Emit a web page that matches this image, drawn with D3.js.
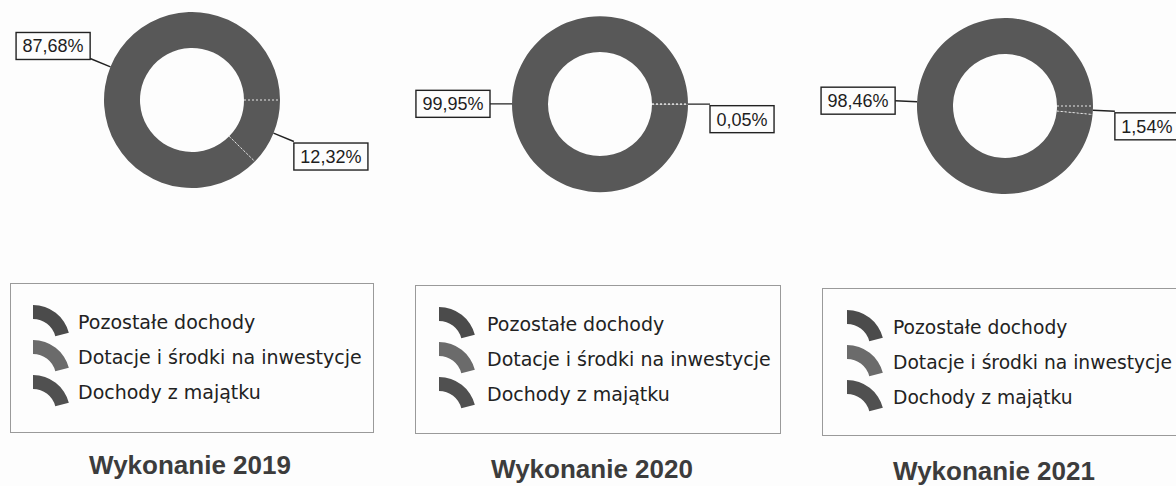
<!DOCTYPE html>
<html>
<head>
<meta charset="utf-8">
<script src="https://cdn.jsdelivr.net/npm/d3@7"></script>
<style>
  html, body { margin: 0; padding: 0; background: #fdfdfd; }
  svg { display: block; }
</style>
</head>
<body>
<svg id="chart" width="1176" height="486"></svg>
<script>
// ---- data ----
const years = ["2019", "2020", "2021"];
const titles = ["Wykonanie 2019", "Wykonanie 2020", "Wykonanie 2021"];
const legendCategories = ["Pozostałe dochody", "Dotacje i środki na inwestycje", "Dochody z majątku"];
const minorShare = [12.32, 0.05, 1.54];   // smaller slice (starts at 3 o'clock)
const majorShare = [87.68, 99.95, 98.46]; // larger slice
const shareLabels = [["12,32%", "87,68%"], ["0,05%", "99,95%"], ["1,54%", "98,46%"]];

// ---- layout (positions / sizes) ----
const panels = [
  { cx: 192, cy: 100, lx: 10,  ly: 283, lw: 363, lh: 149, iconDx: 23, textDx: 68, fs: 19,   tx: 190, ty: 474 },
  { cx: 600, cy: 104, lx: 415, ly: 285, lw: 365, lh: 148, iconDx: 24, textDx: 72, fs: 19,   tx: 592, ty: 478 },
  { cx: 1005, cy: 106, lx: 822, ly: 288, lw: 370, lh: 147, iconDx: 25, textDx: 71, fs: 18.7, tx: 994, ty: 480 }
];
const R = 88, r = 52;
const ringColor = "#585858";
const iconColors = ["#4b4b4b", "#6b6b6b", "#505050"];

const svg = d3.select("#chart");

const pie = d3.pie().sort(null).value(d => d)
  .startAngle(Math.PI / 2).endAngle(Math.PI / 2 + 2 * Math.PI);
const arc = d3.arc().innerRadius(r).outerRadius(R);

years.forEach((yr, i) => {
  const p = panels[i];
  const g = svg.append("g").attr("transform", `translate(${p.cx},${p.cy})`);
  const slices = pie([minorShare[i], majorShare[i]]);

  g.selectAll("path.slice").data(slices).enter().append("path")
    .attr("class", "slice")
    .attr("d", arc)
    .attr("fill", ringColor);

  // dashed slice boundaries
  slices.forEach(s => {
    const a = s.startAngle;
    g.append("line")
      .attr("x1", r * Math.sin(a)).attr("y1", -r * Math.cos(a))
      .attr("x2", R * Math.sin(a)).attr("y2", -R * Math.cos(a))
      .attr("stroke", "#e6e6e6").attr("stroke-width", 1)
      .attr("stroke-dasharray", "2,2");
  });

  // labels with leader lines
  slices.forEach((s, k) => {
    const mid = (s.startAngle + s.endAngle) / 2;
    const x1 = R * Math.sin(mid), y1 = -R * Math.cos(mid);
    const x2 = 110 * Math.sin(mid), y2 = -110 * Math.cos(mid);
    g.append("line")
      .attr("x1", x1).attr("y1", y1).attr("x2", x2).attr("y2", y2)
      .attr("stroke", "#222").attr("stroke-width", 1.4);

    const lg = g.append("g");
    const txt = lg.append("text")
      .attr("font-family", "'Liberation Sans', Arial, sans-serif")
      .attr("font-size", 18)
      .attr("fill", "#1e1e1e")
      .text(shareLabels[i][k]);
    const bb = txt.node().getBBox();
    const bw = bb.width + 13, bh = 27;
    const right = x2 > 0;
    const bx = right ? x2 : x2 - bw;
    let by;
    if (right) by = y2 + 1.5;
    else if (Math.abs(y2) < 12) by = y2 - bh / 2;
    else by = y2 - bh + 1;
    lg.insert("rect", "text")
      .attr("x", bx).attr("y", by).attr("width", bw).attr("height", bh)
      .attr("fill", "#fdfdfd").attr("stroke", "#222").attr("stroke-width", 1.4);
    txt.attr("x", bx + bw / 2).attr("y", by + bh / 2 + 6.5).attr("text-anchor", "middle");
  });

  // legend
  svg.append("rect")
    .attr("x", p.lx + 0.5).attr("y", p.ly + 0.5).attr("width", p.lw).attr("height", p.lh)
    .attr("fill", "none").attr("stroke", "#9a9a9a").attr("stroke-width", 1);

  const iconArc = d3.arc().innerRadius(23).outerRadius(37).startAngle(0).endAngle(1.32);
  legendCategories.forEach((c, j) => {
    const base = p.ly + 46 + j * 35;
    svg.append("path")
      .attr("d", iconArc())
      .attr("transform", `translate(${p.lx + p.iconDx},${base + 13})`)
      .attr("fill", iconColors[j]);
    svg.append("text")
      .attr("x", p.lx + p.textDx).attr("y", base)
      .attr("font-family", "'DejaVu Sans', Verdana, sans-serif")
      .attr("font-size", p.fs)
      .attr("fill", "#222")
      .text(c);
  });

  // title
  svg.append("text")
    .attr("x", p.tx).attr("y", p.ty)
    .attr("text-anchor", "middle")
    .attr("font-family", "'Liberation Sans', Arial, sans-serif")
    .attr("font-weight", "bold")
    .attr("font-size", 26)
    .attr("fill", "#3c3c3c")
    .text(titles[i]);
});
</script>
</body>
</html>
